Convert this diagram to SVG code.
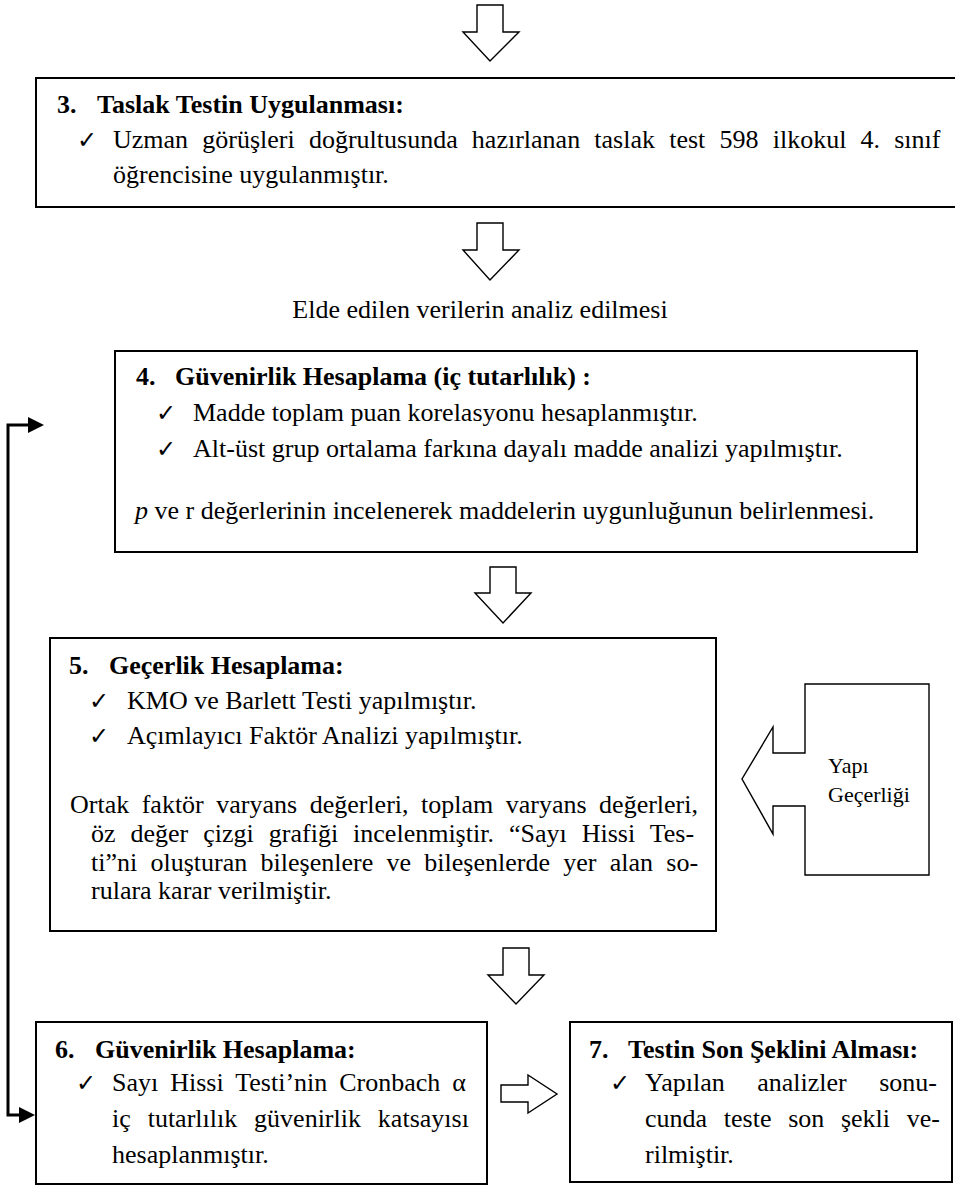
<svg xmlns="http://www.w3.org/2000/svg" width="955" height="1186" viewBox="0 0 955 1186">
<style>
.box{fill:#fff;stroke:#000;stroke-width:2}
.blk{fill:#fff;stroke:#000;stroke-width:1.4;stroke-linejoin:miter}
.t{font-family:"Liberation Serif","Times New Roman",serif;font-size:26px;fill:#000}
.b{font-weight:bold}
.ck{font-family:"DejaVu Sans",sans-serif;font-size:24px;fill:#000}
.sm{font-family:"Liberation Serif","Times New Roman",serif;font-size:22px;fill:#000}
.con{fill:none;stroke:#000;stroke-width:3}
</style>
<defs>
<marker id="ah" markerUnits="userSpaceOnUse" viewBox="0 0 16 16" markerWidth="16" markerHeight="16" refX="0" refY="8" orient="auto-start-reverse">
<path d="M0,0 L16,8 L0,16 Z" fill="#000"/>
</marker>
</defs>
<rect width="955" height="1186" fill="#fff"/>

<g id="connectors">
<polygon class="blk" points="477,5 503,5 503,32 519,32 490,61 463,32 477,32"/>
<polygon class="blk" points="477,223 503,223 503,250 519,250 490,280 463,250 477,250"/>
<polygon class="blk" points="490,567 516,567 516,593 531,593 503,623 475,593 490,593"/>
<polygon class="blk" points="503,948 529,948 529,975 544,975 516,1004 488,975 503,975"/>
<polygon class="blk" points="501,1085 528,1085 528,1075 557,1094 528,1113 528,1102 501,1102"/>
<path class="con" d="M28,425 H8 V1115 H19" marker-start="url(#ah)" marker-end="url(#ah)"/>
</g>

<g id="node3">
<rect class="box" x="36" y="78" width="930" height="129"/>
<text class="t b" x="57" y="113">3.<tspan x="97">Taslak Testin Uygulanması:</tspan></text>
<text class="ck" x="77" y="148">✓</text>
<text class="t" x="113" y="148" word-spacing="7.7">Uzman görüşleri doğrultusunda hazırlanan taslak test 598 ilkokul 4. sınıf</text>
<text class="t" x="113" y="183">öğrencisine uygulanmıştır.</text>
</g>

<g id="label-analiz">
<text class="t" x="480" y="318" text-anchor="middle">Elde edilen verilerin analiz edilmesi</text>
</g>

<g id="node4">
<rect class="box" x="115" y="351" width="802" height="201"/>
<text class="t b" x="136" y="385">4.<tspan x="175">Güvenirlik Hesaplama (iç tutarlılık) :</tspan></text>
<text class="ck" x="156" y="421">✓</text>
<text class="t" x="193" y="421">Madde toplam puan korelasyonu hesaplanmıştır.</text>
<text class="ck" x="156" y="457">✓</text>
<text class="t" x="193" y="457">Alt-üst grup ortalama farkına dayalı madde analizi yapılmıştır.</text>
<text class="t" x="135" y="519"><tspan font-style="italic">p</tspan> ve r değerlerinin incelenerek maddelerin uygunluğunun belirlenmesi.</text>
</g>

<g id="node5">
<rect class="box" x="50" y="638" width="666" height="293"/>
<text class="t b" x="69" y="674">5.<tspan x="109">Geçerlik Hesaplama:</tspan></text>
<text class="ck" x="89" y="709">✓</text>
<text class="t" x="127" y="709">KMO ve Barlett Testi yapılmıştır.</text>
<text class="ck" x="89" y="744">✓</text>
<text class="t" x="127" y="744">Açımlayıcı Faktör Analizi yapılmıştır.</text>
<text class="t" x="70" y="813" word-spacing="6">Ortak faktör varyans değerleri, toplam varyans değerleri,</text>
<text class="t" x="91" y="842" word-spacing="8.5">öz değer çizgi grafiği incelenmiştir. “Sayı Hissi Tes-</text>
<text class="t" x="91" y="871" word-spacing="6.8">ti”ni oluşturan bileşenlere ve bileşenlerde yer alan so-</text>
<text class="t" x="91" y="899">rulara karar verilmiştir.</text>
</g>

<g id="node-yapi">
<polygon class="blk" points="805,684 929,684 929,875 805,875 805,806 773,806 773,834 742,779 773,727 773,753 805,753"/>
<text class="sm" x="828" y="773">Yapı</text>
<text class="sm" x="828" y="802">Geçerliği</text>
</g>

<g id="node6">
<rect class="box" x="36" y="1022" width="451" height="162"/>
<text class="t b" x="55" y="1058">6.<tspan x="95">Güvenirlik Hesaplama:</tspan></text>
<text class="ck" x="76" y="1091">✓</text>
<text class="t" x="112" y="1091" word-spacing="5.5">Sayı Hissi Testi’nin Cronbach α</text>
<text class="t" x="112" y="1127" word-spacing="10.4">iç tutarlılık güvenirlik katsayısı</text>
<text class="t" x="112" y="1163">hesaplanmıştır.</text>
</g>

<g id="node7">
<rect class="box" x="570" y="1022" width="382" height="160"/>
<text class="t b" x="589" y="1058">7.<tspan x="628">Testin Son Şeklini Alması:</tspan></text>
<text class="ck" x="610" y="1091">✓</text>
<text class="t" x="645" y="1091" word-spacing="26">Yapılan analizler sonu-</text>
<text class="t" x="645" y="1127" word-spacing="10.2">cunda teste son şekli ve-</text>
<text class="t" x="645" y="1163">rilmiştir.</text>
</g>
</svg>
